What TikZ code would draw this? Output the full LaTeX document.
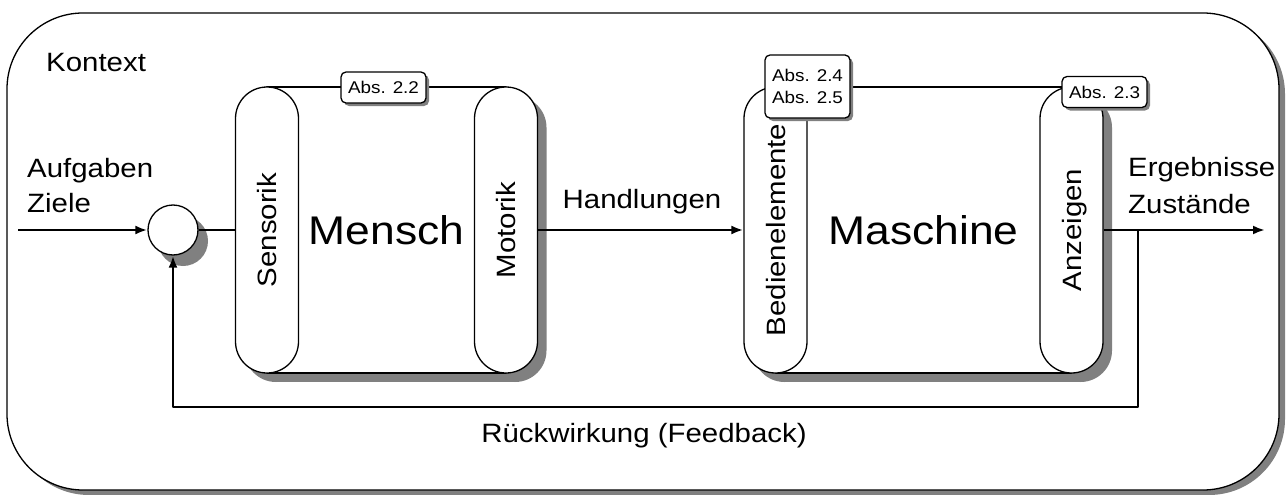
\documentclass[tikz,border=0pt]{standalone}
\usepackage{fontspec}
\setmainfont[FakeStretch=1.11]{Liberation Sans}
\usetikzlibrary{arrows.meta,shadows}

\definecolor{shadowc}{gray}{0.5}

\begin{document}
\begin{tikzpicture}[x=1pt,y=-1pt,
  line join=round,
  txt/.style={font=\fontsize{26.5}{35}\selectfont, inner sep=0pt},
  vtxt/.style={txt, rotate=90, text height=19.3pt, text depth=0pt},
  bigtxt/.style={font=\fontsize{40}{48}\selectfont},
  outline/.style={draw=black, line width=1.3pt, fill=white},
  pill/.style={outline, rounded corners=31.5pt, minimum width=63pt,
    minimum height=286pt, inner sep=0pt},
  frame/.style={outline, minimum height=286pt, inner sep=0pt},
  abs/.style={outline, rounded corners=5pt, minimum width=85pt,
    minimum height=31pt, inner sep=0pt, align=center,
    font=\fontsize{17}{22}\selectfont,
    drop shadow={shadow xshift=3pt, shadow yshift=-3pt, opacity=1, fill=shadowc}},
  flow/.style={line width=2.8pt, -{Latex[length=12pt,width=9pt]}},
  plain/.style={line width=2.8pt}
]
\useasboundingbox (0,0) rectangle (1288,495);

% context frame
\node[outline, rounded corners=76pt, minimum width=1272pt, minimum height=477pt,
  drop shadow={shadow xshift=6pt, shadow yshift=-5pt, opacity=1, fill=shadowc}]
  (ctx) at (643,251.5) {};
\node[txt, anchor=base west] (kontext) at (46,72) {Kontext};

% shadows of the two grouped blocks
\foreach \cx in {267,506,775.5,1071.5}
  \fill[shadowc, rounded corners=31.5pt] (\cx-31.5+9,96) rectangle (\cx+31.5+9,382);
\fill[shadowc] (276,96) rectangle (515,382);
\fill[shadowc] (784.5,96) rectangle (1080.5,382);

% human block
\node[frame, minimum width=239pt, bigtxt] (mensch) at (386.5,230) {Mensch};
\node[pill] (S) at (267,230) {};
\node[pill] (M) at (506,230) {};
\node[vtxt] (slab) at (S.center) {Sensorik};
\node[vtxt] (mlab) at (M.center) {Motorik};
\node[abs] (a22) at (383.5,87.5) {Abs. 2.2};

% machine block
\node[frame, minimum width=296pt, bigtxt] (maschine) at (923.5,230) {Maschine};
\node[pill] (B) at (775.5,230) {};
\node[pill] (A) at (1071.5,230) {};
\node[vtxt] (blab) at (B.center) {Bedienelemente};
\node[vtxt] (alab) at (A.center) {Anzeigen};
\node[abs, minimum height=63pt] (a245) at (807.5,86.5) {Abs. 2.4\\Abs. 2.5};
\node[abs] (a23) at (1104.5,92) {Abs. 2.3};

% comparison point
\node[outline, circle, minimum size=50pt, inner sep=0pt,
  drop shadow={shadow xshift=10pt, shadow yshift=-11pt, opacity=1, fill=shadowc}]
  (C) at (173,230) {};

% free ends of the signal lines
\coordinate (in) at (18,230);
\coordinate (out) at (1265,230);
\coordinate (split) at (1138,230);

% signal flow
\draw[flow] (in) -- (C.west);
\draw[plain] (C.east) -- (S.west);
\draw[flow] (M.east) -- (B.west);
\draw[flow] (A.east) -- (out);
\draw[line width=2.5pt, -{Latex[length=12pt,width=9pt]}]
  (split) -- ++(0,177) -| (C.south);

% labels
\node[txt, anchor=base west] (goal1) at (27,177) {Aufgaben};
\node[txt, anchor=base west] (goal2) at (27,212) {Ziele};
\node[txt, anchor=base west] (res1) at (1128,176) {Ergebnisse};
\node[txt, anchor=base west] (res2) at (1128,213) {Zustände};
\node[txt, anchor=base] (act) at (642,208) {Handlungen};
\node[txt, anchor=base] (fb) at (644,442) {Rückwirkung (Feedback)};
\end{tikzpicture}
\end{document}
